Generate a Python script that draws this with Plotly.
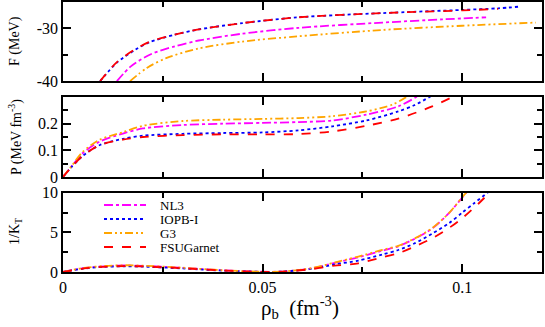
import plotly.graph_objects as go

# ---------------- data ----------------
models = ["NL3", "IOPB-I", "G3", "FSUGarnet"]
colors = {"NL3": "#ff00ff", "IOPB-I": "#0000ff", "G3": "#ffa500", "FSUGarnet": "#ff0000"}
dashes = {"NL3": "dashdot", "IOPB-I": "dot", "G3": "8px,3px,2px,3px,2px,3px", "FSUGarnet": "dash"}

# Free energy per nucleon F (MeV)
rho_F = {
    "NL3":       [0.0135, 0.017, 0.022, 0.028, 0.034, 0.045, 0.059, 0.08, 0.095, 0.106],
    "IOPB-I":    [0.0093, 0.0135, 0.018, 0.0218, 0.028, 0.034, 0.045, 0.059, 0.08, 0.1, 0.109, 0.114],
    "G3":        [0.0168, 0.021, 0.026, 0.034, 0.045, 0.059, 0.08, 0.1, 0.1185],
    "FSUGarnet": [0.0093, 0.0135, 0.018, 0.0218, 0.028, 0.034, 0.045, 0.059, 0.08, 0.1, 0.109],
}
F_vals = {
    "NL3":       [-40.0, -37.2, -34.9, -33.4, -32.3, -31.0, -29.9, -28.9, -28.3, -27.9],
    "IOPB-I":    [-40.0, -36.5, -34.1, -32.6, -31.2, -30.2, -29.0, -27.9, -27.1, -26.5, -26.2, -25.9],
    "G3":        [-40.0, -37.5, -35.6, -33.8, -32.5, -31.5, -30.3, -29.5, -28.9],
    "FSUGarnet": [-40.0, -36.4, -34.0, -32.5, -31.2, -30.2, -29.0, -27.9, -27.1, -26.6, -26.3],
}

# Pressure P (MeV fm^-3)
rho_P = {
    "NL3":       [0, 0.002, 0.005, 0.00925, 0.015, 0.02, 0.03, 0.04, 0.05, 0.059, 0.0675, 0.076, 0.084, 0.0885, 0.091],
    "IOPB-I":    [0, 0.002, 0.005, 0.00925, 0.015, 0.02, 0.03, 0.04, 0.05, 0.059, 0.0675, 0.076, 0.084, 0.088, 0.0918, 0.094],
    "G3":        [0, 0.002, 0.005, 0.00925, 0.015, 0.02, 0.03, 0.04, 0.05, 0.059, 0.0675, 0.076, 0.0826, 0.086, 0.088],
    "FSUGarnet": [0, 0.002, 0.005, 0.00925, 0.015, 0.02, 0.03, 0.04, 0.05, 0.059, 0.0675, 0.076, 0.084, 0.0925, 0.0975, 0.1],
}
P_vals = {
    "NL3":       [0, 0.037, 0.09, 0.133, 0.163, 0.182, 0.195, 0.200, 0.203, 0.206, 0.212, 0.234, 0.265, 0.300, 0.325],
    "IOPB-I":    [0, 0.035, 0.08, 0.120, 0.143, 0.155, 0.162, 0.165, 0.167, 0.175, 0.190, 0.212, 0.246, 0.269, 0.300, 0.320],
    "G3":        [0, 0.038, 0.095, 0.140, 0.168, 0.192, 0.210, 0.215, 0.218, 0.221, 0.228, 0.246, 0.272, 0.300, 0.320],
    "FSUGarnet": [0, 0.035, 0.08, 0.120, 0.140, 0.150, 0.157, 0.160, 0.160, 0.161, 0.171, 0.192, 0.219, 0.265, 0.300, 0.320],
}

# Inverse isothermal compressibility 1/K_T
rho_K = {
    "NL3":       [0, 0.005, 0.01, 0.015, 0.02, 0.03, 0.04, 0.05, 0.055, 0.0625, 0.068, 0.074, 0.08, 0.084, 0.0885, 0.0925, 0.0968, 0.1, 0.102],
    "IOPB-I":    [0, 0.005, 0.01, 0.015, 0.02, 0.03, 0.04, 0.05, 0.055, 0.0625, 0.068, 0.074, 0.08, 0.084, 0.088, 0.0925, 0.0968, 0.1, 0.103, 0.1063, 0.108],
    "G3":        [0, 0.005, 0.01, 0.015, 0.02, 0.03, 0.04, 0.05, 0.055, 0.0625, 0.068, 0.074, 0.08, 0.084, 0.0885, 0.0925, 0.0968, 0.1, 0.102],
    "FSUGarnet": [0, 0.005, 0.01, 0.015, 0.02, 0.03, 0.04, 0.05, 0.055, 0.0625, 0.068, 0.074, 0.08, 0.084, 0.088, 0.0925, 0.0968, 0.1, 0.104, 0.1068, 0.108],
}
K_vals = {
    "NL3":       [0, 0.48, 0.72, 0.82, 0.78, 0.52, 0.22, 0.03, 0.06, 0.47, 1.15, 1.86, 2.70, 3.25, 4.30, 5.50, 7.50, 9.40, 10.6],
    "IOPB-I":    [0, 0.42, 0.64, 0.72, 0.68, 0.45, 0.18, 0.02, 0.05, 0.42, 0.95, 1.45, 2.20, 2.78, 3.60, 4.85, 6.20, 7.50, 8.70, 10.0, 10.7],
    "G3":        [0, 0.50, 0.75, 0.85, 0.80, 0.54, 0.22, 0.03, 0.06, 0.50, 1.20, 1.95, 2.80, 3.30, 4.35, 5.55, 7.50, 9.45, 10.6],
    "FSUGarnet": [0, 0.44, 0.66, 0.74, 0.70, 0.47, 0.19, 0.02, 0.04, 0.38, 0.80, 1.10, 1.85, 2.37, 3.20, 4.27, 5.60, 6.80, 8.60, 10.0, 10.6],
}

# ---------------- figure ----------------
W, H = 545, 327
ML, MR, MT, MB = 63, 3, 2, 55
PW, PH = W - ML - MR, H - MT - MB


def px2paper(px, py):
    return (px - ML) / PW, (H - MB - py) / PH


fig = go.Figure()
font_family = "Liberation Serif"

for m in models:
    line = dict(color=colors[m], dash=dashes[m], width=1.8, shape="spline", smoothing=0.8)
    fig.add_trace(go.Scatter(x=rho_F[m], y=F_vals[m], mode="lines", line=line,
                             xaxis="x", yaxis="y", showlegend=False, name=m))
    fig.add_trace(go.Scatter(x=rho_P[m], y=P_vals[m], mode="lines", line=line,
                             xaxis="x2", yaxis="y2", showlegend=False, name=m))
    fig.add_trace(go.Scatter(x=rho_K[m], y=K_vals[m], mode="lines", line=line,
                             xaxis="x3", yaxis="y3", showlegend=False, name=m))

tickfont = dict(family=font_family, size=16, color="black")
common_x = dict(range=[0, 0.12], showline=True, linecolor="black", linewidth=1.5, mirror="allticks",
                ticks="inside", ticklen=8, tickwidth=1.5, tickcolor="black", dtick=0.05, tick0=0,
                minor=dict(dtick=0.025, ticks="inside", ticklen=5, tickwidth=1.5, tickcolor="black"),
                showgrid=False, zeroline=False, tickfont=tickfont)
common_y = dict(showline=True, linecolor="black", linewidth=1.5, mirror="allticks",
                ticks="inside", ticklen=8, tickwidth=1.5, tickcolor="black",
                showgrid=False, zeroline=False, tickfont=tickfont)

fig.update_layout(
    width=W, height=H,
    margin=dict(l=ML, r=MR, t=MT, b=MB, autoexpand=False),
    paper_bgcolor="white", plot_bgcolor="white",
    font=dict(family=font_family, color="black"),
    showlegend=False,
    xaxis=dict(common_x, domain=[0, 1], anchor="y", showticklabels=False),
    xaxis2=dict(common_x, domain=[0, 1], anchor="y2", showticklabels=False, matches="x"),
    xaxis3=dict(common_x, domain=[0, 1], anchor="y3", showticklabels=True, matches="x",
                tickvals=[0, 0.05, 0.1], ticktext=["0", "0.05", "0.1"]),
    yaxis=dict(common_y, domain=[0.707, 1.0], anchor="x", range=[-40, -25],
               tickvals=[-40, -30], ticktext=["-40", "-30"],
               minor=dict(dtick=5, tick0=-40, ticks="inside", ticklen=5, tickwidth=1.5, tickcolor="black")),
    yaxis2=dict(common_y, domain=[0.352, 0.648], anchor="x2", range=[0, 0.3],
                tickvals=[0, 0.1, 0.2], ticktext=["0", "0.1", "0.2"],
                minor=dict(dtick=0.05, tick0=0, ticks="inside", ticklen=5, tickwidth=1.5, tickcolor="black")),
    yaxis3=dict(common_y, domain=[0, 0.293], anchor="x3", range=[0, 10],
                tickvals=[0, 5, 10], ticktext=["0", "5", "10"],
                minor=dict(dtick=2.5, tick0=0, ticks="inside", ticklen=5, tickwidth=1.5, tickcolor="black")),
)

# axis titles
ylab_font = dict(family=font_family, size=14, color="black")
for text, py in [("F (MeV)", 41), ("P (MeV fm<sup>-3</sup>)", 137), ("1/K<sub>T</sub>", 232)]:
    xp, yp = px2paper(15, py)
    fig.add_annotation(text=text, xref="paper", yref="paper", x=xp, y=yp,
                       textangle=-90, showarrow=False, font=ylab_font,
                       xanchor="center", yanchor="middle")
xp, yp = px2paper(300, 307)
fig.add_annotation(text="ρ<sub>b</sub>  (fm<sup>-3</sup>)", xref="paper", yref="paper", x=xp, y=yp,
                   showarrow=False, font=dict(family=font_family, size=21, color="black"),
                   xanchor="center", yanchor="middle")

# legend (drawn manually to match the compact spacing)
leg_rows = [205, 219, 233, 247]
for m, py in zip(models, leg_rows):
    x0, y0 = px2paper(104, py)
    x1, _ = px2paper(146, py)
    fig.add_shape(type="line", xref="paper", yref="paper", x0=x0, x1=x1, y0=y0, y1=y0,
                  line=dict(color=colors[m], dash=dashes[m], width=1.8))
    xt, _ = px2paper(158, py)
    fig.add_annotation(text=m, xref="paper", yref="paper", x=xt, y=y0, showarrow=False,
                       xanchor="left", yanchor="middle",
                       font=dict(family=font_family, size=13, color="black"))

fig.write_html("out.html", config={"displayModeBar": False},
               post_script="document.body.style.margin='0';")
